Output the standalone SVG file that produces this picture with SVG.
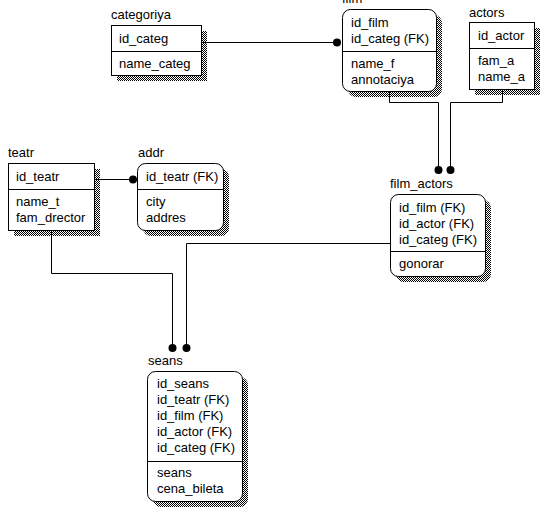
<svg xmlns="http://www.w3.org/2000/svg" width="553" height="517" viewBox="0 0 553 517">
<defs>
<pattern id="dither" width="2" height="2" patternUnits="userSpaceOnUse">
<rect x="0" y="0" width="1" height="1" fill="#000"/>
<rect x="1" y="1" width="1" height="1" fill="#000"/>
</pattern>
<style>
text{font-family:"Liberation Sans",Arial,sans-serif;font-size:13px;fill:#000}
.box{fill:#fff;stroke:#000;stroke-width:1}
.shadow{fill:url(#dither);stroke:none}
.div{stroke:#000;stroke-width:1}
.conn{fill:none;stroke:#000;stroke-width:1}
.dot{fill:#000}
</style>
</defs>
<rect width="553" height="517" fill="#fff"/>

<g id="categoriya">
<rect class="shadow" x="117" y="31" width="90" height="50"/>
<rect class="box" x="111.5" y="25.5" width="90" height="50"/>
<line class="div" x1="111.5" y1="51.5" x2="201.5" y2="51.5"/>
<text x="111" y="19">categoriya</text>
<text x="119" y="43">id_categ</text>
<text x="119" y="68">name_categ</text>
</g>

<g id="film">
<rect class="shadow" x="348" y="15" width="94" height="82" rx="8"/>
<rect class="box" x="342.5" y="9.5" width="94" height="82" rx="8"/>
<line class="div" x1="342.5" y1="51.5" x2="436.5" y2="51.5"/>
<text x="342" y="3">film</text>
<text x="351" y="27">id_film</text>
<text x="351" y="43">id_categ (FK)</text>
<text x="351" y="68">name_f</text>
<text x="351" y="84">annotaciya</text>
</g>

<g id="actors">
<rect class="shadow" x="475" y="28" width="65" height="67"/>
<rect class="box" x="469.5" y="22.5" width="65" height="67"/>
<line class="div" x1="469.5" y1="48.5" x2="534.5" y2="48.5"/>
<text x="469" y="17">actors</text>
<text x="478" y="40">id_actor</text>
<text x="478" y="65">fam_a</text>
<text x="478" y="81">name_a</text>
</g>

<g id="teatr">
<rect class="shadow" x="14" y="169" width="86" height="67"/>
<rect class="box" x="8.5" y="163.5" width="86" height="67"/>
<line class="div" x1="8.5" y1="189.5" x2="94.5" y2="189.5"/>
<text x="8" y="157">teatr</text>
<text x="16" y="181">id_teatr</text>
<text x="16" y="206">name_t</text>
<text x="16" y="222">fam_drector</text>
</g>

<g id="addr">
<rect class="shadow" x="143" y="169" width="86" height="67" rx="8"/>
<rect class="box" x="137.5" y="163.5" width="86" height="67" rx="8"/>
<line class="div" x1="137.5" y1="189.5" x2="223.5" y2="189.5"/>
<text x="138" y="157">addr</text>
<text x="146" y="181">id_teatr (FK)</text>
<text x="146" y="206">city</text>
<text x="146" y="222">addres</text>
</g>

<g id="film_actors">
<rect class="shadow" x="396" y="200" width="95" height="82" rx="8"/>
<rect class="box" x="390.5" y="194.5" width="95" height="82" rx="8"/>
<line class="div" x1="390.5" y1="251.5" x2="485.5" y2="251.5"/>
<text x="390" y="188">film_actors</text>
<text x="399" y="212">id_film (FK)</text>
<text x="399" y="228">id_actor (FK)</text>
<text x="399" y="244">id_categ (FK)</text>
<text x="399" y="268">gonorar</text>
</g>

<g id="seans">
<rect class="shadow" x="153" y="377" width="95" height="130" rx="8"/>
<rect class="box" x="147.5" y="371.5" width="95" height="130" rx="8"/>
<line class="div" x1="147.5" y1="461.5" x2="242.5" y2="461.5"/>
<text x="148" y="365">seans</text>
<text x="157" y="388">id_seans</text>
<text x="157" y="404">id_teatr (FK)</text>
<text x="157" y="420">id_film (FK)</text>
<text x="157" y="436">id_actor (FK)</text>
<text x="157" y="452">id_categ (FK)</text>
<text x="157" y="477">seans</text>
<text x="157" y="493">cena_bileta</text>
</g>

<g id="connectors">
<polyline class="conn" points="202,42.5 337,42.5"/>
<circle class="dot" cx="337" cy="42.5" r="4"/>
<polyline class="conn" points="95,179.5 133,179.5"/>
<circle class="dot" cx="133" cy="179.5" r="4"/>
<polyline class="conn" points="389.5,92 389.5,102.5 438.5,102.5 438.5,170"/>
<circle class="dot" cx="438.5" cy="170" r="4"/>
<polyline class="conn" points="502.5,90 502.5,102.5 450.5,102.5 450.5,170"/>
<circle class="dot" cx="450.5" cy="170" r="4"/>
<polyline class="conn" points="51.5,231 51.5,273.5 172.5,273.5 172.5,348"/>
<circle class="dot" cx="172.5" cy="348" r="4"/>
<polyline class="conn" points="391,243.5 186.5,243.5 186.5,348"/>
<circle class="dot" cx="186.5" cy="348" r="4"/>
</g>
</svg>
